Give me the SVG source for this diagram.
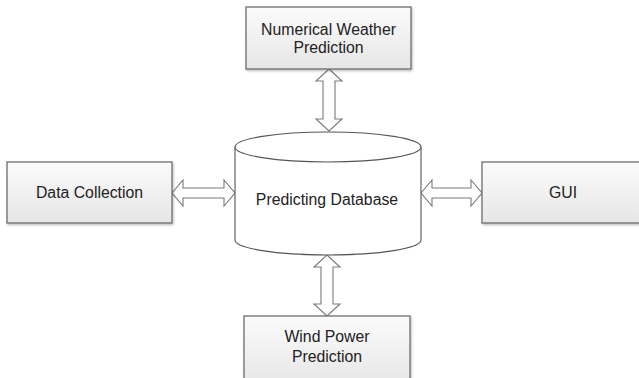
<svg xmlns="http://www.w3.org/2000/svg" width="639" height="378" viewBox="0 0 639 378">
  <defs>
    <linearGradient id="boxFill" x1="0" y1="0" x2="0" y2="1">
      <stop offset="0" stop-color="#fbfbfb"/>
      <stop offset="1" stop-color="#e6e6e6"/>
    </linearGradient>
    <filter id="shadow" x="-10%" y="-10%" width="120%" height="130%">
      <feDropShadow dx="1" dy="1.5" stdDeviation="1.2" flood-color="#000" flood-opacity="0.25"/>
    </filter>
  </defs>
  <style>
    .box { fill: url(#boxFill); stroke: #6e6e6e; stroke-width: 1.3; filter: url(#shadow); }
    .arrow { fill: #ffffff; stroke: #7a7a7a; stroke-width: 1.1; stroke-linejoin: miter; }
    .db { fill: #ffffff; stroke: #555555; stroke-width: 1.1; }
    .label { font-family: "Liberation Sans", Arial, sans-serif; font-size: 15.8px; fill: #222222; text-anchor: middle; }
  </style>
  <rect width="639" height="378" fill="#ffffff"/>

  <!-- connectors: hollow double-headed arrows -->
  <g id="connectors">
    <!-- top: NWP to database -->
    <path class="arrow" d="M329,69 L342,81 L335,81 L335,119 L342,119 L329,131 L316,119 L323,119 L323,81 L316,81 Z"/>
    <!-- bottom: database to wind power prediction -->
    <path class="arrow" d="M327,255 L340,267 L333,267 L333,304 L340,304 L327,316 L314,304 L321,304 L321,267 L314,267 Z"/>
    <!-- left: data collection to database -->
    <path class="arrow" d="M172,193 L183,180 L183,188 L224,188 L224,180 L235,193 L224,206 L224,198 L183,198 L183,206 Z"/>
    <!-- right: database to GUI -->
    <path class="arrow" d="M421,193 L432,180 L432,188 L471,188 L471,180 L482,193 L471,206 L471,198 L432,198 L432,206 Z"/>
  </g>

  <g id="nwp">
    <rect class="box" x="246" y="7" width="165" height="62"/>
    <text class="label" x="328.5" y="35">Numerical Weather</text>
    <text class="label" x="328.5" y="53">Prediction</text>
  </g>

  <g id="data-collection">
    <rect class="box" x="7" y="162" width="165" height="61"/>
    <text class="label" x="89.5" y="198">Data Collection</text>
  </g>

  <g id="gui">
    <rect class="box" x="482" y="162" width="165" height="61"/>
    <text class="label" x="563" y="198">GUI</text>
  </g>

  <g id="wind-power">
    <rect class="box" x="244" y="316" width="166" height="70"/>
    <text class="label" x="327" y="342">Wind Power</text>
    <text class="label" x="327" y="362">Prediction</text>
  </g>

  <g id="database">
    <path class="db" d="M235,147 L235,240 A93,15 0 0 0 421,240 L421,147 A93,15 0 0 0 235,147 Z"/>
    <path class="db" fill="none" d="M235,147 A93,15 0 0 0 421,147"/>
    <text class="label" x="327" y="205">Predicting Database</text>
  </g>
</svg>
